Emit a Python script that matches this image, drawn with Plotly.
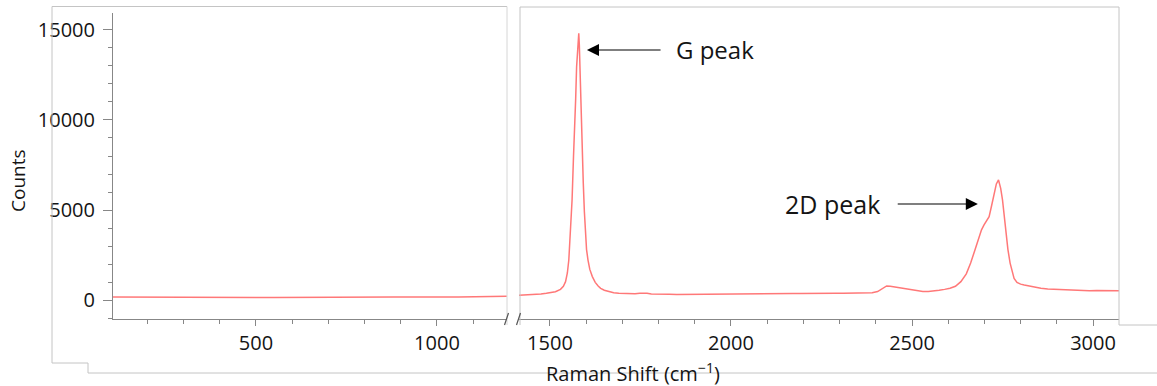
import plotly.graph_objects as go

# ---------------- data ----------------
shift_low = [100, 130, 160, 190, 220, 250, 280, 310, 340, 370, 400, 430, 460, 490, 520,
             550, 580, 610, 640, 670, 700, 730, 745, 760, 790, 820, 850, 880, 910, 940,
             970, 1000, 1030, 1060, 1090, 1120, 1150, 1170, 1193]
counts_low = [165, 160, 158, 155, 150, 140, 148, 145, 142, 140, 138, 137, 135, 134, 133,
              132, 131, 130, 130, 129, 130, 132, 150, 158, 152, 163, 155, 160, 166, 158,
              162, 168, 165, 170, 172, 178, 195, 200, 215]

shift_high = [1414, 1430, 1445, 1460, 1475, 1490, 1502, 1515, 1529, 1537, 1543, 1548, 1552,
              1556, 1561, 1565, 1568, 1571, 1573.5, 1576, 1578, 1579.5, 1581, 1582.5, 1584,
              1586, 1589, 1592, 1595, 1598, 1601, 1605, 1610, 1617, 1625, 1633, 1640, 1650,
              1660, 1676, 1690, 1705, 1720, 1735, 1748, 1758, 1768, 1780, 1795, 1810, 1830,
              1850, 1870, 1890, 1910, 1930, 1950, 1970, 1990, 2010, 2030, 2050, 2070, 2090,
              2110, 2130, 2150, 2170, 2190, 2210, 2230, 2250, 2270, 2290, 2310, 2330, 2350,
              2370, 2390, 2405, 2418, 2430, 2440, 2455, 2470, 2485, 2500, 2515, 2530, 2545,
              2560, 2575, 2590, 2605, 2620, 2635, 2650, 2662, 2675, 2685, 2692, 2699, 2706,
              2713, 2720, 2727, 2733, 2739, 2745, 2750, 2755, 2759, 2765, 2771, 2777, 2782,
              2790, 2800, 2810, 2825, 2840, 2856, 2875, 2895, 2915, 2930, 2950, 2975, 2990,
              3010, 3030, 3050, 3072]
counts_high = [260, 270, 285, 300, 330, 370, 400, 460, 590, 760, 1020, 1500, 2220,
               3500, 5560, 8000, 9260, 11200, 12950, 14100, 14630, 14810, 14200, 12950, 11600,
               10190, 8200, 6480, 4900, 3700, 2800, 2220, 1700, 1300, 980, 780, 650, 540,
               470, 400, 370, 350, 345, 350, 380, 385, 370, 330, 315, 310, 320,
               310, 315, 325, 320, 330, 325, 335, 330, 340, 335, 345, 340, 350,
               345, 355, 350, 360, 355, 365, 360, 370, 365, 375, 370, 375, 380,
               385, 400, 470, 640, 780, 770, 720, 660, 600, 540, 480, 470, 475,
               495, 540, 590, 650, 760, 1020, 1450, 2050, 2850, 3520, 3900, 4170, 4400,
               4630, 5250, 5940, 6450, 6670, 6200, 5560, 4600, 3700, 2800, 2050, 1550, 1200,
               980, 880, 830, 760, 700, 650, 610, 590, 570, 560, 545, 520, 510,
               525, 515, 520, 520]

y_tick_vals = [0, 5000, 10000, 15000]
y_tick_text = ["0", "5000", "10000", "15000"]
x_low_ticks = [500, 1000]
x_high_ticks = [1500, 2000, 2500, 3000]

# ---------------- layout helpers ----------------
W, H = 1157, 386


def px(x):
    return x / W


def py(y):
    return 1 - y / H


FONT = "Open Sans"
LINE_RED = "#ff7878"
AXIS_GRAY = "#878787"
FRAME_GRAY = "#c4c4c4"
TEXT = "#141414"

fig = go.Figure()
fig.add_trace(go.Scatter(x=shift_low, y=counts_low, mode="lines",
                         line=dict(color=LINE_RED, width=1.5),
                         xaxis="x", yaxis="y", showlegend=False, hoverinfo="skip"))
fig.add_trace(go.Scatter(x=shift_high, y=counts_high, mode="lines",
                         line=dict(color=LINE_RED, width=1.5),
                         xaxis="x2", yaxis="y", showlegend=False, hoverinfo="skip"))

common_x = dict(showline=True, linecolor=AXIS_GRAY, linewidth=1, ticks="outside",
                ticklen=6, tickcolor=AXIS_GRAY, showgrid=False, zeroline=False,
                tickfont=dict(family=FONT, size=20, color=TEXT), automargin=False,
                minor=dict(ticks="outside", ticklen=4, dtick=100, tickcolor=AXIS_GRAY, showgrid=False),
                anchor="y", fixedrange=True)

fig.update_layout(
    width=W, height=H, autosize=False,
    margin=dict(l=0, r=0, t=0, b=0),
    paper_bgcolor="white", plot_bgcolor="white",
    xaxis=dict(domain=[px(113), px(507)], range=[105, 1193.4],
               tickvals=x_low_ticks, ticktext=[str(v) for v in x_low_ticks],
               **common_x),
    xaxis2=dict(domain=[px(519), px(1119)], range=[1414.4, 3071.8],
                tickvals=x_high_ticks, ticktext=[str(v) for v in x_high_ticks],
                **common_x),
    yaxis=dict(domain=[py(319), py(13)], range=[-1055.6, 15944],
               showline=True, linecolor=AXIS_GRAY, linewidth=1, ticks="outside",
               ticklen=9, tickcolor=AXIS_GRAY, showgrid=False, zeroline=False,
               tickvals=y_tick_vals, ticktext=y_tick_text, ticklabelstandoff=4,
               tickfont=dict(family=FONT, size=20, color=TEXT), automargin=False,
               minor=dict(ticks="outside", ticklen=4, dtick=1000, tickcolor=AXIS_GRAY, showgrid=False),
               anchor="x", fixedrange=True),
)

shapes = []


def seg(x0, y0, x1, y1, color=FRAME_GRAY, width=1):
    shapes.append(dict(type="line", xref="paper", yref="paper",
                       x0=px(x0), y0=py(y0), x1=px(x1), y1=py(y1),
                       line=dict(color=color, width=width)))


# left chart frame
seg(52, 6.5, 507, 6.5)
seg(52, 6.5, 52, 363)
seg(52, 363, 88, 363)
seg(88, 363, 88, 373)
seg(88, 373, 1157, 373)
seg(507, 6.5, 507, 325, color="#d6d6d6")
# right chart frame
seg(520, 7, 1119, 7)
seg(520, 7, 520, 325)
seg(1119, 7, 1119, 325)
seg(1119, 325, 1157, 325)
# axis break marks
seg(504.5, 325, 508.5, 313, color="#555555", width=1.2)
seg(516.5, 325, 520.5, 313, color="#555555", width=1.2)

fig.update_layout(shapes=shapes)

annotations = [
    # label text sits at the arrow tail; startstandoff leaves a gap between text and arrow
    dict(x=1602, y=13889, xref="x2", yref="y", ax=1956, ay=13889, axref="x2", ayref="y",
         text="G peak", showarrow=True, arrowhead=2, arrowsize=2.2, arrowwidth=1.1,
         arrowcolor="black", startstandoff=14,
         font=dict(family=FONT, size=24, color=TEXT)),
    dict(x=2682, y=5333, xref="x2", yref="y", ax=2281, ay=5333, axref="x2", ayref="y",
         text="2D peak", showarrow=True, arrowhead=2, arrowsize=2.2, arrowwidth=1.1,
         arrowcolor="black", startstandoff=16,
         font=dict(family=FONT, size=25, color=TEXT)),
    dict(x=px(18), y=py(181), xref="paper", yref="paper", text="Counts", textangle=-90,
         showarrow=False, font=dict(family=FONT, size=19, color=TEXT),
         xanchor="center", yanchor="middle"),
    dict(x=px(633), y=py(372), xref="paper", yref="paper", text="Raman Shift (cm<sup>−1</sup>)",
         showarrow=False, font=dict(family=FONT, size=20, color=TEXT),
         xanchor="center", yanchor="middle"),
]
fig.update_layout(annotations=annotations)

fig.write_html("out.html")
